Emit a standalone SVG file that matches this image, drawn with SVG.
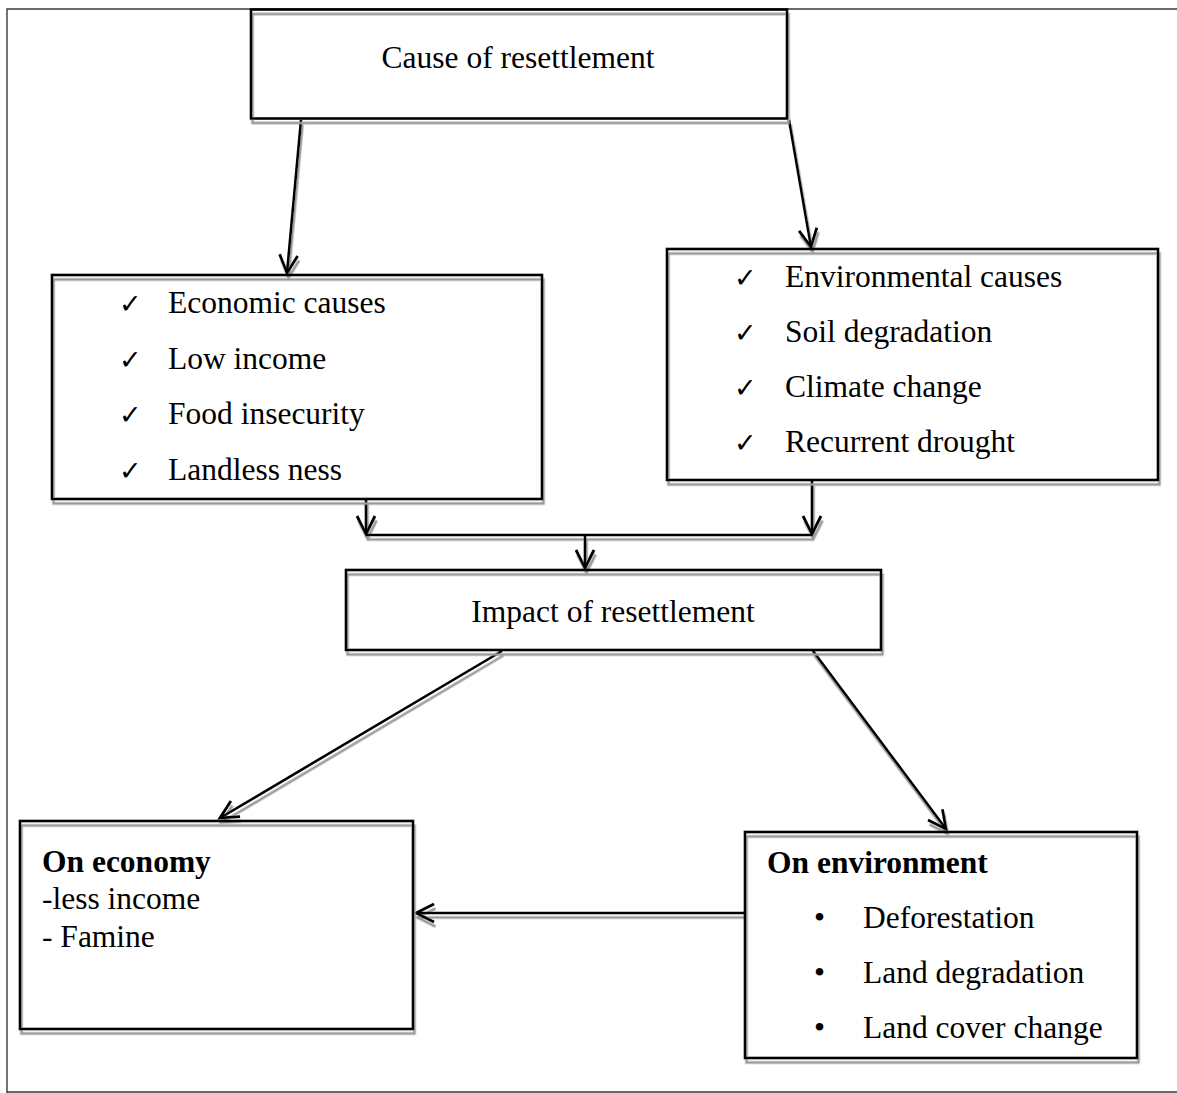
<svg xmlns="http://www.w3.org/2000/svg" width="1177" height="1093" viewBox="0 0 1177 1093">
<style>
.box{fill:none;stroke:#000;stroke-width:2.6}
.t{font-family:"Liberation Serif","Times New Roman",serif;font-size:31.5px;fill:#000}
.b{font-weight:bold}
.ck{font-family:"DejaVu Sans",sans-serif;font-size:27px;fill:#000}
.ln{fill:none;stroke:#000;stroke-width:2.6}
.frame{fill:none;stroke:#3a3a3a;stroke-width:1.4}
</style>
<defs>
<filter id="sh" filterUnits="userSpaceOnUse" x="0" y="0" width="1177" height="1093">
<feDropShadow dx="1.5" dy="4.5" stdDeviation="0" flood-color="#9a9a9a" flood-opacity="1"/>
</filter>
<marker id="ah" viewBox="0 0 22 22" refX="19" refY="11" markerWidth="22" markerHeight="22" markerUnits="userSpaceOnUse" orient="auto">
<path d="M1,2 L19,11 L1,20" fill="none" stroke="#000" stroke-width="2.8"/>
</marker>
</defs>
<rect width="1177" height="1093" fill="#fff"/>
<path class="frame" d="M7,1093 V9 H1177 M7,1092 H1177"/>

<g id="connectors" filter="url(#sh)">
<line class="ln" x1="301" y1="120" x2="287" y2="273" marker-end="url(#ah)"/>
<line class="ln" x1="789" y1="120" x2="811" y2="247" marker-end="url(#ah)"/>
<line class="ln" x1="366" y1="500" x2="366" y2="534" marker-end="url(#ah)"/>
<line class="ln" x1="812" y1="481" x2="812" y2="534" marker-end="url(#ah)"/>
<line class="ln" x1="366" y1="535" x2="812" y2="535"/>
<line class="ln" x1="585" y1="535" x2="585" y2="568" marker-end="url(#ah)"/>
<line class="ln" x1="502" y1="651" x2="220" y2="818" marker-end="url(#ah)"/>
<line class="ln" x1="813" y1="651" x2="946" y2="829" marker-end="url(#ah)"/>
<line class="ln" x1="745" y1="913" x2="416" y2="913" marker-end="url(#ah)"/>
</g>

<g id="cause">
<rect class="box" x="251" y="9.5" width="536" height="109" filter="url(#sh)"/>
<text class="t" x="518" y="68" text-anchor="middle">Cause of resettlement</text>
</g>

<g id="economic">
<rect class="box" x="52" y="275" width="490" height="224" filter="url(#sh)"/>
<text class="ck" x="119" y="313">✓</text>
<text class="ck" x="119" y="369">✓</text>
<text class="ck" x="119" y="424">✓</text>
<text class="ck" x="119" y="480">✓</text>
<text class="t" x="168" y="313">Economic causes</text>
<text class="t" x="168" y="369">Low income</text>
<text class="t" x="168" y="424">Food insecurity</text>
<text class="t" x="168" y="480">Landless ness</text>
</g>

<g id="environmental">
<rect class="box" x="667" y="249" width="491" height="231" filter="url(#sh)"/>
<text class="ck" x="734" y="287">✓</text>
<text class="ck" x="734" y="342">✓</text>
<text class="ck" x="734" y="397">✓</text>
<text class="ck" x="734" y="452">✓</text>
<text class="t" x="785" y="287">Environmental causes</text>
<text class="t" x="785" y="342">Soil degradation</text>
<text class="t" x="785" y="397">Climate change</text>
<text class="t" x="785" y="452">Recurrent drought</text>
</g>

<g id="impact">
<rect class="box" x="346" y="570" width="535" height="80" filter="url(#sh)"/>
<text class="t" x="613" y="622" text-anchor="middle">Impact of resettlement</text>
</g>

<g id="economy">
<rect class="box" x="20" y="821" width="393" height="208" filter="url(#sh)"/>
<text class="t b" x="42" y="872">On economy</text>
<text class="t" x="42" y="909">-less income</text>
<text class="t" x="42" y="947">- Famine</text>
</g>

<g id="environment">
<rect class="box" x="745" y="832" width="392" height="226" filter="url(#sh)"/>
<text class="t b" x="767" y="873">On environment</text>
<text class="t" x="814" y="928">•</text>
<text class="t" x="814" y="983">•</text>
<text class="t" x="814" y="1038">•</text>
<text class="t" x="863" y="928">Deforestation</text>
<text class="t" x="863" y="983">Land degradation</text>
<text class="t" x="863" y="1038">Land cover change</text>
</g>
</svg>
